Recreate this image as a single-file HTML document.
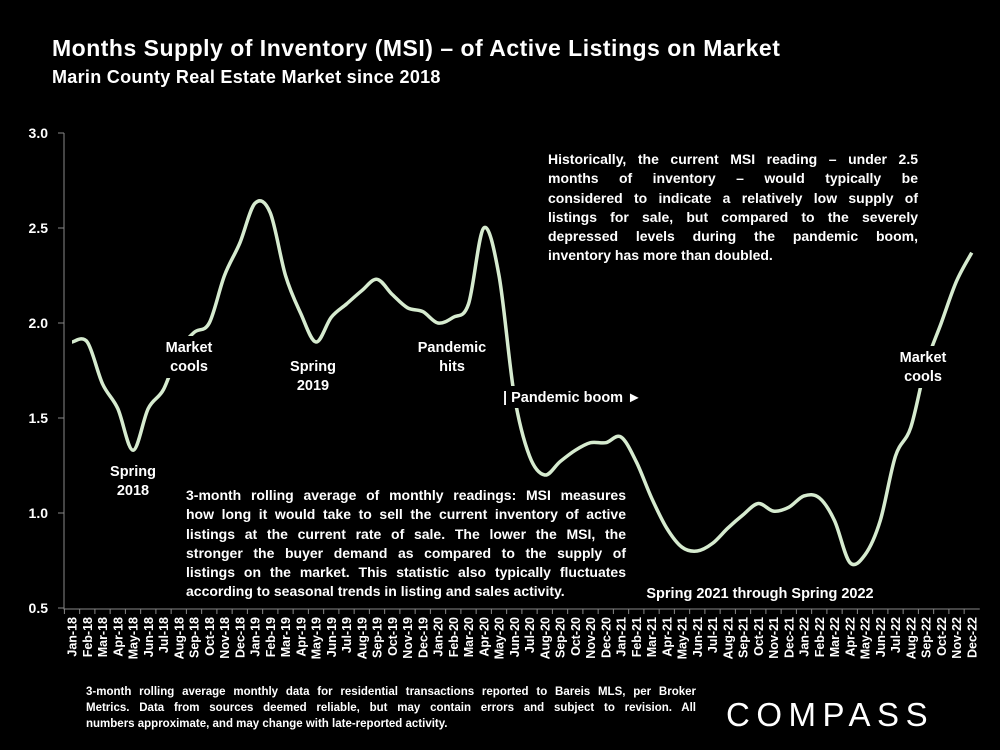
<!DOCTYPE html>
<html><head><meta charset="utf-8"><style>
body{margin:0;background:#000;width:1000px;height:750px;overflow:hidden;font-family:"Liberation Sans",sans-serif;color:#fff}
.t{position:absolute;font-weight:bold}
.ann{position:absolute;font-weight:bold;font-size:14px;line-height:19.3px;background:#000}
.ann div{text-align:justify;text-align-last:justify;white-space:nowrap}
.ann div.l{text-align-last:left}
</style></head><body>
<div class="t" style="left:52px;top:35px;font-size:23px;letter-spacing:0.5px">Months Supply of Inventory (MSI) – of Active Listings on Market</div>
<div class="t" style="left:52px;top:67px;font-size:18px;letter-spacing:0.3px">Marin County Real Estate Market since 2018</div>
<svg id="c" width="1000" height="750" style="position:absolute;left:0;top:0"></svg>
<div class="ann" style="left:548px;top:150px;width:370px"><div>Historically, the current MSI reading – under 2.5</div><div>months of inventory – would typically be</div><div>considered to indicate a relatively low supply of</div><div>listings for sale, but compared to the severely</div><div>depressed levels during the pandemic boom,</div><div class="l">inventory has more than doubled.</div></div>
<div class="ann" style="left:186px;top:486px;width:440px"><div>3-month rolling average of monthly readings: MSI measures</div><div>how long it would take to sell the current inventory of active</div><div>listings at the current rate of sale. The lower the MSI, the</div><div>stronger the buyer demand as compared to the supply of</div><div>listings on the market. This statistic also typically fluctuates</div><div class="l">according to seasonal trends in listing and sales activity.</div></div>
<div class="ann" style="left:86px;top:684px;width:610px;font-size:11.5px;line-height:16px"><div>3-month rolling average monthly data for residential transactions reported to Bareis MLS, per Broker</div><div>Metrics. Data from sources deemed reliable, but may contain errors and subject to revision. All</div><div class="l">numbers approximate, and may change with late-reported activity.</div></div>
<div style="position:absolute;left:726px;top:696px;font-size:33px;letter-spacing:6.5px;color:#fff">COMPASS</div>
<script>
const months=["Jan","Feb","Mar","Apr","May","Jun","Jul","Aug","Sep","Oct","Nov","Dec"];
const categories=[];for(const y of ["18","19","20","21","22"])for(const m of months)categories.push(m+"-"+y);
const msiValues=[1.90,1.90,1.68,1.55,1.33,1.55,1.65,1.85,1.95,2.00,2.25,2.42,2.63,2.58,2.25,2.05,1.90,2.03,2.10,2.17,2.23,2.15,2.08,2.06,2.00,2.03,2.10,2.50,2.25,1.62,1.30,1.20,1.27,1.33,1.37,1.37,1.40,1.27,1.08,0.92,0.82,0.80,0.84,0.92,0.99,1.05,1.01,1.03,1.09,1.08,0.96,0.74,0.78,0.96,1.30,1.45,1.78,2.00,2.22,2.37];
const yTicks=[0.5,1.0,1.5,2.0,2.5,3.0];
const labels=[["Market","cools",189,352],["Spring","2018",133,476],["Spring","2019",313,371],["Pandemic","hits",452,352],["Market","cools",923,362]];
const svg=document.getElementById('c'),NS="http://www.w3.org/2000/svg";
const x=i=>72+i*15.25, y=v=>608-(v-0.5)*190;
function el(t,a,txt){const e=document.createElementNS(NS,t);for(const k in a)e.setAttribute(k,a[k]);if(txt!=null)e.textContent=txt;svg.appendChild(e);return e;}
const ax=el('path',{d:`M64,133V609H${x(59)+8}`,stroke:'#888',fill:'none','stroke-width':1});


yTicks.forEach(v=>{const t=el('text',{x:48,y:y(v)+5,'text-anchor':'end',fill:'#fff','font-size':14,'font-weight':'bold'},v.toFixed(1));


el('line',{x1:58,x2:64,y1:y(v),y2:y(v),stroke:'#888'});});
categories.forEach((c,i)=>{el('line',{x1:x(i)-7.6,x2:x(i)-7.6,y1:609,y2:614,stroke:'#888'});
const t=el('text',{transform:`translate(${x(i)+4.5},617) rotate(-90)`,'text-anchor':'end',fill:'#fff','font-size':12.5,'font-weight':'bold'},c);

});
const P=msiValues.map((v,i)=>[x(i),y(v)]);
let d=`M${P[0][0]},${P[0][1]}`;
for(let i=0;i<P.length-1;i++){const p0=P[i-1]||P[i],p1=P[i],p2=P[i+1],p3=P[i+2]||p2;
d+=`C${p1[0]+(p2[0]-p0[0])/6},${p1[1]+(p2[1]-p0[1])/6} ${p2[0]-(p3[0]-p1[0])/6},${p2[1]-(p3[1]-p1[1])/6} ${p2[0]},${p2[1]}`;}
const ln=el('path',{d,stroke:'#d6ebcf',fill:'none','stroke-width':3.5});


labels.forEach(l=>{el('rect',{x:l[2]-33,y:l[3]-16,width:66,height:42,fill:'#000'});
const t=el('text',{x:l[2],y:l[3],'text-anchor':'middle',fill:'#fff','font-size':14.5,'font-weight':'bold'});


const a=document.createElementNS(NS,'tspan');a.setAttribute('x',l[2]);a.textContent=l[0];t.appendChild(a);
const b=document.createElementNS(NS,'tspan');b.setAttribute('x',l[2]);b.setAttribute('dy',19);b.textContent=l[1];t.appendChild(b);});
el('rect',{x:500,y:386,width:146,height:22,fill:'#000'});
const pb=el('text',{x:503,y:402,fill:'#fff','font-size':14.5,'font-weight':'bold'},'| Pandemic boom ►');


const sp=el('text',{x:760,y:598,'text-anchor':'middle',fill:'#fff','font-size':14.5,'font-weight':'bold'},'Spring 2021 through Spring 2022');


</script>
</body></html>
